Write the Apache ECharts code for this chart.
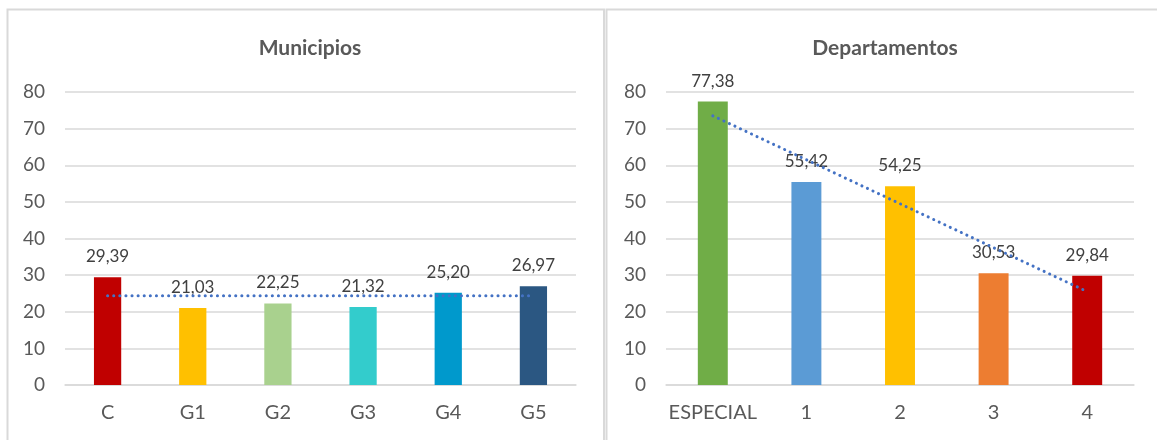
<!DOCTYPE html>
<html>
<head>
<meta charset="utf-8">
<script src="https://cdn.jsdelivr.net/npm/echarts@6/dist/echarts.min.js"></script>
<style>
	html, body { margin: 0; padding: 0; background: #fff; }
	#chart { width: 1157px; height: 440px; }
</style>
</head>
<body>
<div id="chart"></div>
<script>
	// datos
	const catMunicipios = ['C', 'G1', 'G2', 'G3', 'G4', 'G5'];
	const valMunicipios = [29.39, 21.03, 22.25, 21.32, 25.20, 26.97];
	const colMunicipios = ['#C00000', '#FFC000', '#A9D18E', '#33CCCC', '#0099CC', '#2B5782'];
	const trendMunicipios = [24.4, null, null, null, null, 24.4];

	const catDepartamentos = ['ESPECIAL', '1', '2', '3', '4'];
	const valDepartamentos = [77.38, 55.42, 54.25, 30.53, 29.84];
	const colDepartamentos = ['#70AD47', '#5B9BD5', '#FFC000', '#ED7D31', '#C00000'];
	const trendDepartamentos = [73.5, null, null, null, 25.5];

	const titles = ['Municipios', 'Departamentos'];
	const yTicks = { min: 0, max: 80, interval: 10 };

	const font = 'Lato, "Open Sans", sans-serif';
	const gridColor = '#D9D9D9';
	const textColor = '#595959';

	let chart = echarts.init(document.getElementById('chart'));

	function fmt(v) {
		return v.toFixed(2).replace('.', ',');
	}

	function xAxisOf(idx, cats) {
		return {
			type: 'category',
			gridIndex: idx,
			data: cats,
			axisLine: { lineStyle: { color: gridColor, width: 1.5 } },
			axisTick: { show: false },
			axisLabel: { interval: 0, color: textColor, fontFamily: font, fontSize: 20, margin: 18 }
		};
	}

	function yAxisOf(idx) {
		return {
			type: 'value',
			gridIndex: idx,
			min: yTicks.min,
			max: yTicks.max,
			interval: yTicks.interval,
			axisLine: { show: false },
			axisTick: { show: false },
			splitLine: { lineStyle: { color: gridColor, width: 1.5 } },
			axisLabel: { color: textColor, fontFamily: font, fontSize: 19, margin: 20 }
		};
	}

	function barsOf(idx, vals, cols) {
		return {
			type: 'bar',
			xAxisIndex: idx,
			yAxisIndex: idx,
			barWidth: '32%',
			data: vals.map((v, i) => ({ value: v, itemStyle: { color: cols[i] } })),
			label: {
				show: true,
				position: 'top',
				distance: 12,
				color: '#404040',
				fontFamily: font,
				fontSize: 17,
				formatter: p => fmt(p.value)
			}
		};
	}

	function trendOf(idx, vals) {
		return {
			type: 'line',
			xAxisIndex: idx,
			yAxisIndex: idx,
			data: vals,
			connectNulls: true,
			symbol: 'none',
			z: 5,
			lineStyle: { color: '#4472C4', width: 3, type: [0.1, 6], cap: 'round' }
		};
	}

	const option = {
		animation: false,
		title: [
			{
				text: titles[0], left: 305, top: 33, textAlign: 'center',
				textStyle: { color: textColor, fontFamily: font, fontSize: 21, fontWeight: 'bold' }
			},
			{
				text: titles[1], left: 880, top: 33, textAlign: 'center',
				textStyle: { color: textColor, fontFamily: font, fontSize: 21, fontWeight: 'bold' }
			}
		],
		graphic: [
			{
				type: 'polyline',
				shape: { points: [[7.5, 445], [7.5, 9.5], [604, 9.5], [604, 445]] },
				style: { stroke: gridColor, lineWidth: 2, fill: null },
				silent: true
			},
			{
				type: 'polyline',
				shape: { points: [[606.5, 445], [606.5, 9.5], [1160, 9.5]] },
				style: { stroke: gridColor, lineWidth: 2, fill: null },
				silent: true
			}
		],
		grid: [
			{ left: 65, top: 92, width: 511, height: 293 },
			{ left: 666, top: 92, width: 468, height: 293 }
		],
		xAxis: [xAxisOf(0, catMunicipios), xAxisOf(1, catDepartamentos)],
		yAxis: [yAxisOf(0), yAxisOf(1)],
		series: [
			barsOf(0, valMunicipios, colMunicipios),
			trendOf(0, trendMunicipios),
			barsOf(1, valDepartamentos, colDepartamentos),
			trendOf(1, trendDepartamentos)
		]
	};

	chart.setOption(option);
</script>
</body>
</html>
